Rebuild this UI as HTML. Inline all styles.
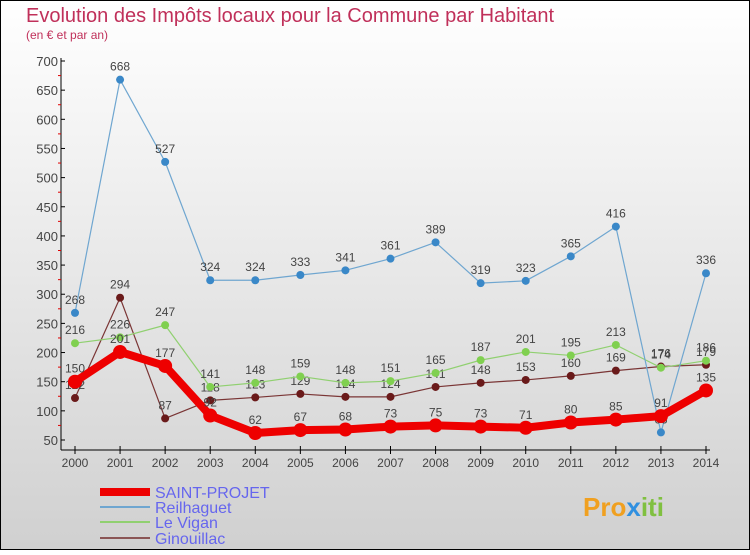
<!DOCTYPE html>
<html><head><meta charset="utf-8"><style>
html,body{margin:0;padding:0}
body{width:750px;height:550px;overflow:hidden;font-family:"Liberation Sans",sans-serif}
</style></head><body>
<svg width="750" height="550" xmlns="http://www.w3.org/2000/svg">
<defs><linearGradient id="bg" x1="0" y1="0" x2="0" y2="1"><stop offset="0" stop-color="#ffffff"/><stop offset="1" stop-color="#d0d0d0"/></linearGradient></defs>
<rect x="0" y="0" width="750" height="550" fill="url(#bg)"/>
<rect x="0.5" y="0.5" width="749" height="549" fill="none" stroke="#000"/>
<text x="26" y="22" font-size="20" fill="#c0305a">Evolution des Impôts locaux pour la Commune par Habitant</text>
<text x="26" y="39" font-size="12" fill="#c0305a">(en € et par an)</text>
<g id="axes"></g>
<g id="series"></g>
<g id="legend">
<line x1="100" y1="492" x2="150" y2="492" stroke="#ee0000" stroke-width="8"/>
<text x="155" y="498" font-size="16" fill="#6666ee">SAINT-PROJET</text>
<line x1="100" y1="507" x2="150" y2="507" stroke="#6fa6d0" stroke-width="2"/>
<text x="155" y="513" font-size="16" fill="#6666ee">Reilhaguet</text>
<line x1="100" y1="522" x2="150" y2="522" stroke="#90d070" stroke-width="2"/>
<text x="155" y="528" font-size="16" fill="#6666ee">Le Vigan</text>
<line x1="100" y1="538" x2="150" y2="538" stroke="#8a5555" stroke-width="2"/>
<text x="155" y="544" font-size="16" fill="#6666ee">Ginouillac</text>
</g>
<text x="583" y="516" font-size="26" font-weight="bold" fill="#f0a020">Pro<tspan fill="#3090e0">x</tspan><tspan fill="#80c040">iti</tspan></text>
</svg>
<script>
const years=[2000,2001,2002,2003,2004,2005,2006,2007,2008,2009,2010,2011,2012,2013,2014];
const yTicks=[50,100,150,200,250,300,350,400,450,500,550,600,650,700];
const saintProjet=[150,201,177,92,62,67,68,73,75,73,71,80,85,91,135];
const reilhaguet=[268,668,527,324,324,333,341,361,389,319,323,365,416,63,336];
const leVigan=[216,226,247,141,148,159,148,151,165,187,201,195,213,174,186];
const ginouillac=[122,294,87,118,123,129,124,124,141,148,153,160,169,176,179];
const NS="http://www.w3.org/2000/svg";
function X(i){return 75+i*(631/14);}
function Y(v){return 440-(v-50)*(379/650);}
function mk(tag,attrs,parent){const e=document.createElementNS(NS,tag);for(const k in attrs)e.setAttribute(k,attrs[k]);parent.appendChild(e);return e;}
const ax=document.getElementById('axes');
let l=mk('line',{x1:61,y1:58,x2:61,y2:450,stroke:'#000'},ax);


l=mk('line',{x1:61,y1:450,x2:710,y2:450,stroke:'#000'},ax);


yTicks.forEach(v=>{
  mk('line',{x1:61,y1:Y(v),x2:65,y2:Y(v),stroke:'#000'},ax);
  if(v<700)mk('line',{x1:58,y1:Y(v+25),x2:61,y2:Y(v+25),stroke:'#e00000'},ax);
  const t=mk('text',{x:58,y:Y(v)+5,'font-size':13,'text-anchor':'end',fill:'#444'},ax);
  t.textContent=v;
  
  
});
years.forEach((yr,i)=>{
  mk('line',{x1:X(i),y1:446,x2:X(i),y2:454,stroke:'#000'},ax);
  const t=mk('text',{x:X(i),y:467,'font-size':12,'text-anchor':'middle',fill:'#444'},ax);
  t.textContent=yr;
  
  
});
const sg=document.getElementById('series');
function draw(vals,color,w,r,name,ptColor){
  const g=mk('g',{},sg);
  
  
  const p=mk('polyline',{points:vals.map((v,i)=>X(i)+','+Y(v)).join(' '),fill:'none',stroke:color,'stroke-width':w,'stroke-linejoin':'round'},g);
  
  
  vals.forEach((v,i)=>{
    const c=mk('circle',{cx:X(i),cy:Y(v),r:r,fill:ptColor},g);
    
    
    const t=mk('text',{x:X(i),y:Y(v)-9,'font-size':12,'text-anchor':'middle',fill:'#444'},g);
    t.textContent=v;
    
    
  });
}
draw(ginouillac,'#7a3535',1.2,4,'ginouillac','#6a1a1a');
draw(leVigan,'#90d070',1.2,4,'le-vigan','#80d050');
draw(reilhaguet,'#6fa6d0',1.2,4,'reilhaguet','#3a88c8');
draw(saintProjet,'#ee0000',8,7,'saint-projet','#ee0000');
</script>
</body></html>
